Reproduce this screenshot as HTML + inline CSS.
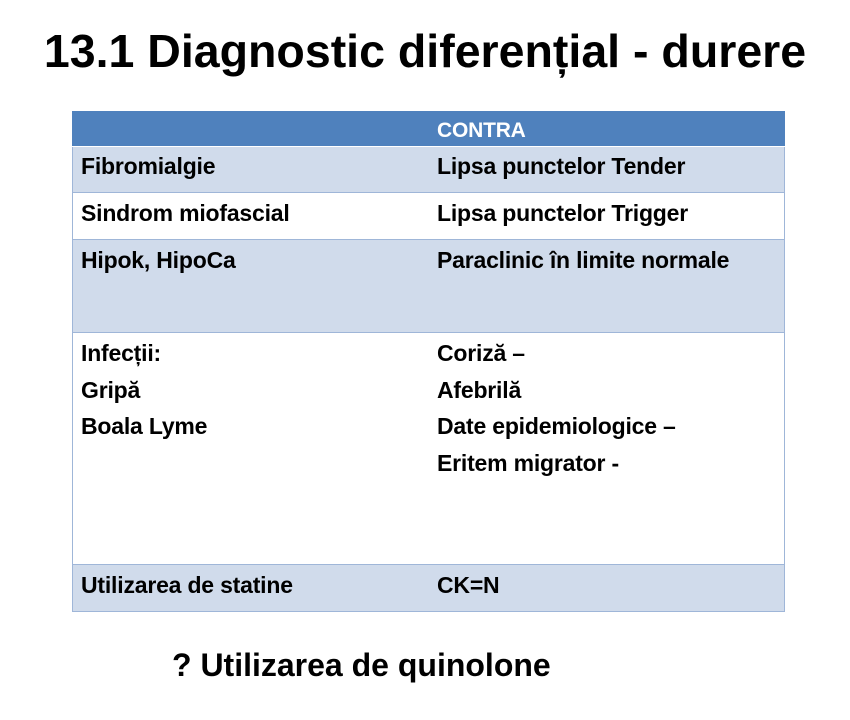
<!DOCTYPE html>
<html><head><meta charset="utf-8"><style>
body{margin:0;width:850px;height:720px;background:#fff;font-family:"Liberation Sans",sans-serif;position:relative;overflow:hidden}
.t{position:absolute;font-weight:bold;color:#000;white-space:nowrap}
.r{position:absolute;left:72px;width:713px;border-bottom:1px solid #9fb6d8;box-sizing:border-box}
.s{font-size:23px;letter-spacing:-0.2px;line-height:26px}
</style></head><body>
<div class="t" style="left:0;width:850px;text-align:center;top:24px;font-size:46.5px;line-height:54px">13.1 Diagnostic diferențial - durere</div>
<div class="r" style="top:111px;height:36px;background:#4f81bd;border-bottom:1px solid #fff"></div>
<div class="r" style="top:147px;height:46px;background:#d0dbeb;border-left:1px solid #9fb6d8;border-right:1px solid #9fb6d8"></div>
<div class="r" style="top:193px;height:47px;background:#fff;border-left:1px solid #9fb6d8;border-right:1px solid #9fb6d8"></div>
<div class="r" style="top:240px;height:93px;background:#d0dbeb;border-left:1px solid #9fb6d8;border-right:1px solid #9fb6d8"></div>
<div class="r" style="top:333px;height:232px;background:#fff;border-left:1px solid #9fb6d8;border-right:1px solid #9fb6d8"></div>
<div class="r" style="top:565px;height:47px;background:#d0dbeb;border-left:1px solid #9fb6d8;border-right:1px solid #9fb6d8"></div>
<div class="t s" style="left:437px;top:118px;color:#fff;font-size:21px">CONTRA</div>
<div class="t s" style="left:81px;top:153px">Fibromialgie</div>
<div class="t s" style="left:437px;top:153px">Lipsa punctelor Tender</div>
<div class="t s" style="left:81px;top:200px">Sindrom miofascial</div>
<div class="t s" style="left:437px;top:200px">Lipsa punctelor Trigger</div>
<div class="t s" style="left:81px;top:247px">Hipok, HipoCa</div>
<div class="t s" style="left:437px;top:247px">Paraclinic în limite normale</div>
<div class="t s" style="left:81px;top:340px">Infecții:</div>
<div class="t s" style="left:81px;top:377px">Gripă</div>
<div class="t s" style="left:81px;top:413px">Boala Lyme</div>
<div class="t s" style="left:437px;top:340px">Coriză –</div>
<div class="t s" style="left:437px;top:377px">Afebrilă</div>
<div class="t s" style="left:437px;top:413px">Date epidemiologice –</div>
<div class="t s" style="left:437px;top:450px">Eritem migrator -</div>
<div class="t s" style="left:81px;top:572px">Utilizarea de statine</div>
<div class="t s" style="left:437px;top:572px">CK=N</div>
<div class="t" style="left:172px;top:646px;font-size:32px;line-height:38px">? Utilizarea de quinolone</div>
</body></html>
